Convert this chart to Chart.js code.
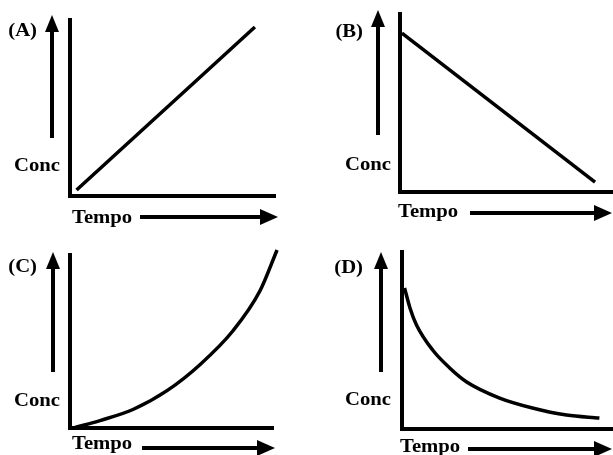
<!DOCTYPE html>
<html>
<head>
<meta charset="utf-8">
<script src="https://cdn.jsdelivr.net/npm/chart.js@4"></script>
<style>
  html, body { margin: 0; padding: 0; background: #fff; }
  body { width: 613px; height: 455px; position: relative; overflow: hidden; }
  canvas { position: absolute; }
</style>
</head>
<body>
<canvas id="chart-a" width="306" height="227" style="left:0;top:0"></canvas>
<canvas id="chart-b" width="307" height="227" style="left:306px;top:0"></canvas>
<canvas id="chart-c" width="306" height="228" style="left:0;top:227px"></canvas>
<canvas id="chart-d" width="307" height="228" style="left:306px;top:227px"></canvas>
<script>
// values (time and concentration on a 0-10 scale)
const panelLabels = ['(A)', '(B)', '(C)', '(D)'];
const xAxisTitle = 'Tempo';
const yAxisTitle = 'Conc';

const tempoA = [0.32, 9.02];
const concA = [0.34, 9.60];

const tempoB = [0.09, 9.20];
const concB = [8.93, 0.56];

const tempoC = [0.25, 1.48, 3.10, 4.78, 6.40, 8.03, 9.36, 10.2];
const concC = [0.03, 0.43, 1.07, 2.16, 3.66, 5.62, 7.93, 10.29];

const tempoD = [0.12, 0.38, 0.69, 1.46, 2.27, 3.08, 4.65, 6.21, 7.83, 9.40];
const concD = [7.97, 6.84, 5.88, 4.46, 3.45, 2.66, 1.75, 1.19, 0.79, 0.62];

const FONT = 'bold 18px "Liberation Serif", "Times New Roman", serif';

function stretchText(ctx, text, x, y, align) {
  ctx.save();
  ctx.translate(x, y);
  ctx.scale(1.15, 1);
  ctx.font = FONT;
  ctx.fillStyle = '#000';
  ctx.textAlign = align;
  ctx.textBaseline = 'middle';
  ctx.fillText(text, 0, 0);
  ctx.restore();
}

// axis arrows and labels drawn around the chart area
const sketchPlugin = {
  id: 'sketch',
  afterDraw(chart, args, o) {
    const ctx = chart.ctx;
    const a = chart.chartArea;
    ctx.save();
    ctx.strokeStyle = '#000';
    ctx.fillStyle = '#000';
    ctx.lineWidth = 4;

    // vertical arrow
    const ux = a.left + o.upX, uTop = a.top + o.upTop, uBot = a.bottom + o.upBottom;
    ctx.beginPath();
    ctx.moveTo(ux, uBot);
    ctx.lineTo(ux, uTop + 12);
    ctx.stroke();
    ctx.beginPath();
    ctx.moveTo(ux, uTop);
    ctx.lineTo(ux - 7, uTop + 17);
    ctx.lineTo(ux + 7, uTop + 17);
    ctx.closePath();
    ctx.fill();

    // horizontal arrow
    const ay = a.bottom + o.arrowY, ax0 = a.left + o.arrowStart, ax1 = a.right + o.arrowEnd;
    ctx.beginPath();
    ctx.moveTo(ax0, ay);
    ctx.lineTo(ax1 - 12, ay);
    ctx.stroke();
    ctx.beginPath();
    ctx.moveTo(ax1, ay);
    ctx.lineTo(ax1 - 18, ay - 8);
    ctx.lineTo(ax1 - 18, ay + 8);
    ctx.closePath();
    ctx.fill();
    ctx.restore();

    stretchText(ctx, o.label, a.left + o.labelX, a.top + o.labelY, 'right');
    stretchText(ctx, yAxisTitle, a.left + o.concX, a.bottom + o.concY, 'right');
    stretchText(ctx, xAxisTitle, a.left + o.tempoX, a.bottom + o.tempoY, 'left');
  }
};

function axis() {
  return {
    type: 'linear',
    min: 0,
    max: 10,
    ticks: { display: false },
    grid: { display: false, drawTicks: false },
    border: { display: true, color: '#000', width: 4 }
  };
}

function makeChart(id, xs, ys, padding, sketch) {
  new Chart(document.getElementById(id), {
    type: 'line',
    data: {
      datasets: [{
        data: xs.map((x, i) => ({ x: x, y: ys[i] })),
        borderColor: '#000',
        borderWidth: 3.5,
        pointRadius: 0,
        cubicInterpolationMode: 'monotone',
        clip: false
      }]
    },
    options: {
      responsive: false,
      animation: false,
      layout: { padding: padding },
      scales: { x: axis(), y: axis() },
      plugins: {
        legend: { display: false },
        tooltip: { enabled: false },
        sketch: sketch
      }
    },
    plugins: [sketchPlugin]
  });
}

makeChart('chart-a', tempoA, concA,
  { left: 70, top: 20, right: 31, bottom: 31 },
  { label: panelLabels[0], labelX: -33, labelY: 11, upX: -18, upTop: -5, upBottom: -58,
    concX: -10, concY: -30, tempoX: 2, tempoY: 22, arrowY: 21, arrowStart: 70, arrowEnd: 3 });

makeChart('chart-b', tempoB, concB,
  { left: 94, top: 14, right: 1, bottom: 35 },
  { label: panelLabels[1], labelX: -37, labelY: 18, upX: -22, upTop: -4, upBottom: -57,
    concX: -9, concY: -27, tempoX: -2, tempoY: 20, arrowY: 21, arrowStart: 70, arrowEnd: 0 });

makeChart('chart-c', tempoC, concC,
  { left: 70, top: 28, right: 33, bottom: 27 },
  { label: panelLabels[2], labelX: -33, labelY: 12, upX: -17, upTop: -3, upBottom: -56,
    concX: -10, concY: -27, tempoX: 2, tempoY: 16, arrowY: 20, arrowStart: 72, arrowEnd: 2 });

makeChart('chart-d', tempoD, concD,
  { left: 96, top: 25, right: 1, bottom: 26 },
  { label: panelLabels[3], labelX: -39, labelY: 16, upX: -21, upTop: 0, upBottom: -57,
    concX: -11, concY: -29, tempoX: -2, tempoY: 18, arrowY: 20, arrowStart: 66, arrowEnd: 0 });
</script>
</body>
</html>
